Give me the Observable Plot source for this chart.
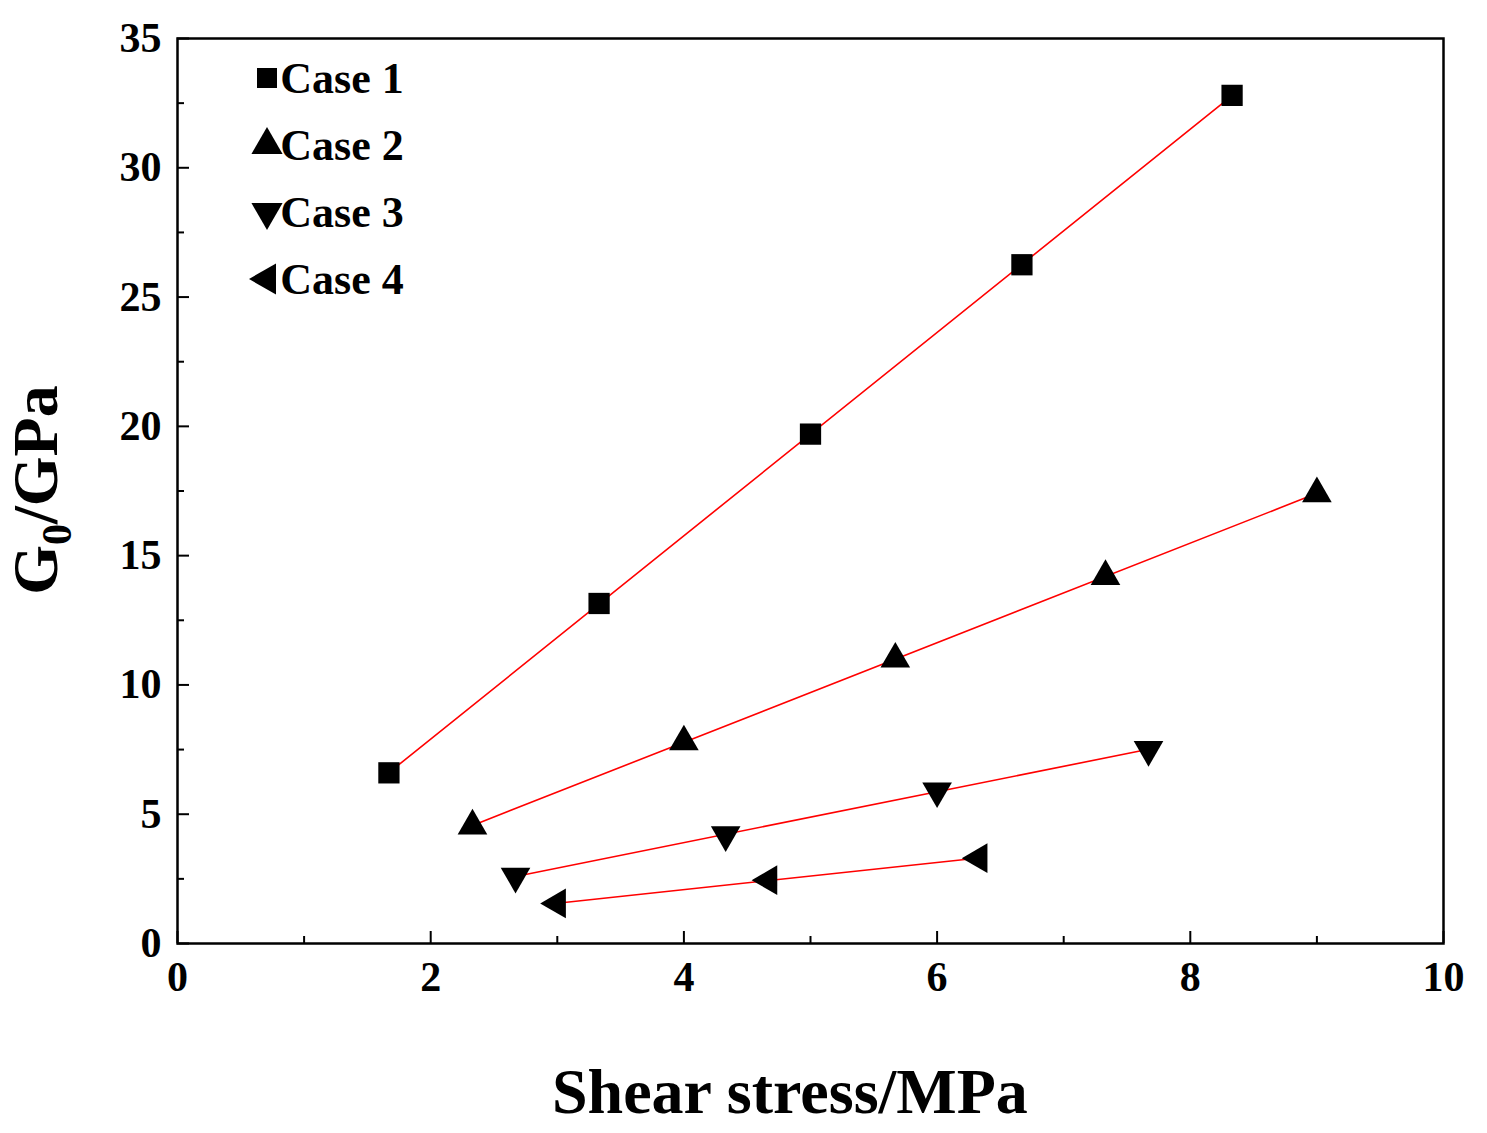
<!DOCTYPE html>
<html><head><meta charset="utf-8">
<script src="https://cdn.jsdelivr.net/npm/d3@7"></script>
<script src="https://cdn.jsdelivr.net/npm/@observablehq/plot@0.6"></script>
<style>
body{margin:0;background:#fff;font-family:"Liberation Serif",serif;font-weight:bold}
#wrap{position:relative;width:1487px;height:1133px}
.lab{position:absolute;font-weight:bold;color:#000;white-space:nowrap}
#wrap svg text{font-size:42px !important;font-family:"Liberation Serif",serif !important;font-weight:bold}
#wrap svg text.leg{font-size:44px !important}
</style></head><body><div id="wrap"></div>
<script>
const case1X=[1.67,3.33,5,6.67,8.33], case1Y=[6.6,13.15,19.7,26.25,32.8];
const case2X=[2.33,4,5.67,7.33,9], case2Y=[4.55,7.8,11.0,14.2,17.4];
const case3X=[2.67,4.33,6,7.67], case3Y=[2.6,4.2,5.9,7.5];
const case4X=[3,4.67,6.33], case4Y=[1.55,2.45,3.3];
const names=["Case 1","Case 2","Case 3","Case 4"];
const symbols=["square","triangle","triangle","triangle"];
const rotations=[0,0,180,-90];
const xs=[case1X,case2X,case3X,case4X], ys=[case1Y,case2Y,case3Y,case4Y];
const data=xs.flatMap((X,i)=>X.map((x,j)=>({x,y:ys[i][j],s:names[i],k:i})));
const marks=[Plot.frame({stroke:"#000",strokeWidth:2.5})];
names.forEach((n,i)=>{
  const d=data.filter(e=>e.k===i);
  marks.push(Plot.linearRegressionY(d,{x:"x",y:"y",stroke:"red",strokeWidth:1.6,ci:0}));
  marks.push(Plot.dot(d,{x:"x",y:"y",symbol:()=>symbols[i],rotate:rotations[i],fill:"#000",r:i===0?12:11}));
});
marks.push(
 Plot.axisX({ticks:[0,2,4,6,8,10],tickSize:-12,tickPadding:30,label:null,strokeWidth:2}),
 Plot.axisX({ticks:[1,3,5,7,9],tickSize:-7,text:null,label:null,strokeWidth:2}),
 Plot.axisY({ticks:[0,5,10,15,20,25,30,35],tickSize:-12,tickPadding:28,label:null,strokeWidth:2}),
 Plot.axisY({ticks:[2.5,7.5,12.5,17.5,22.5,27.5,32.5],tickSize:-7,text:null,label:null,strokeWidth:2})
);
const p=Plot.plot({width:1487,height:1133,marginLeft:177,marginRight:44,marginTop:38,marginBottom:190,
 x:{domain:[0,10]},y:{domain:[0,35]},style:{fontFamily:"Liberation Serif",fontWeight:"bold",color:"#000",background:"#fff"},marks});
const w=document.getElementById("wrap");w.appendChild(p);
const ns="http://www.w3.org/2000/svg";
const leg=document.createElementNS(ns,"g");
names.forEach((n,i)=>{
  const cy=78+i*67;
  const sym=document.createElementNS(ns,"path");
  sym.setAttribute("d",d3.symbol(i===0?d3.symbolSquare:d3.symbolTriangle,i===0?400:420)());
  sym.setAttribute("transform",`translate(267,${cy}) rotate(${rotations[i]})`);
  leg.appendChild(sym);
  const t=document.createElementNS(ns,"text");
  t.setAttribute("class","leg");
  t.setAttribute("x",342);t.setAttribute("y",cy+15);
  t.textContent=n;leg.appendChild(t);
});
p.appendChild(leg);
const xl=document.createElement("div");xl.className="lab";xl.style.cssText+="left:552px;top:1055px;font-size:64px";xl.textContent="Shear stress/MPa";w.appendChild(xl);
const yl=document.createElement("div");yl.className="lab";yl.style.cssText+="left:40px;top:490px;font-size:64px;transform:translate(-50%,-50%) rotate(-90deg)";
yl.innerHTML='G<sub style="font-size:42px">0</sub>/GPa';w.appendChild(yl);
</script></body></html>
